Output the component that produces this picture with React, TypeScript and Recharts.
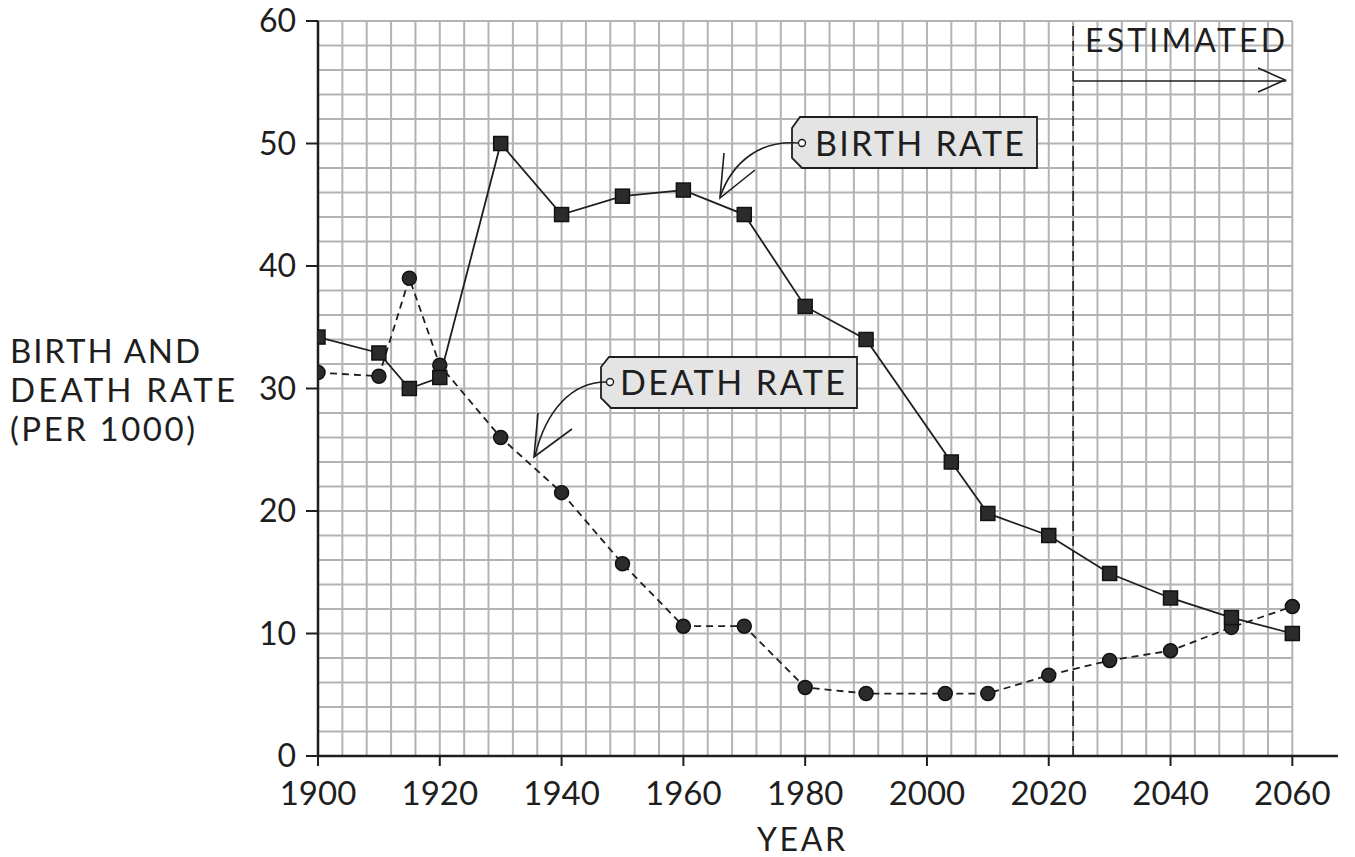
import React from "react"
import {
  LineChart,
  Line,
  XAxis,
  YAxis,
  ReferenceLine,
} from "recharts"

const birthYears = [1900, 1910, 1915, 1920, 1930, 1940, 1950, 1960, 1970, 1980, 1990, 2004, 2010, 2020, 2030, 2040, 2050, 2060]
const birthRates = [34.2, 32.9, 30.0, 30.9, 50.0, 44.2, 45.7, 46.2, 44.2, 36.7, 34.0, 24.0, 19.8, 18.0, 14.9, 12.9, 11.3, 10.0]

const deathYears = [1900, 1910, 1915, 1920, 1930, 1940, 1950, 1960, 1970, 1980, 1990, 2003, 2010, 2020, 2030, 2040, 2050, 2060]
const deathRates = [31.3, 31.0, 39.0, 31.9, 26.0, 21.5, 15.7, 10.6, 10.6, 5.6, 5.1, 5.1, 5.1, 6.6, 7.8, 8.6, 10.5, 12.2]

const xTicks = [1900, 1920, 1940, 1960, 1980, 2000, 2020, 2040, 2060]
const yTicks = [0, 10, 20, 30, 40, 50, 60]
const estimatedFrom = 2024

const FONT = "Lato, 'DejaVu Sans', sans-serif"
const INK = "#1e1e1e"
const GRID = "#b3b3b3"

// minor grid: every 4 years / every 2 units
const gridXs: number[] = []
for (let x = 1900; x <= 2060; x += 4) gridXs.push(x)
const gridYs: number[] = []
for (let y = 0; y <= 60; y += 2) gridYs.push(y)

const birthData = birthYears.map((year, i) => ({ year, v: birthRates[i] }))
const deathData = deathYears.map((year, i) => ({ year, v: deathRates[i] }))

const SquareDot = (props: any) => {
  const { cx, cy, index } = props
  if (cx == null || cy == null) return null
  return (
    <rect
      key={`sq-${index}`}
      x={cx - 7}
      y={cy - 7}
      width={14}
      height={14}
      fill="#2b2b2b"
      stroke="#111"
      strokeWidth={1.5}
    />
  )
}

const RoundDot = (props: any) => {
  const { cx, cy, index } = props
  if (cx == null || cy == null) return null
  return <circle key={`ci-${index}`} cx={cx} cy={cy} r={7} fill="#2b2b2b" stroke="#111" strokeWidth={1.5} />
}

export default function App() {
  return (
    <div style={{ position: "absolute", left: 0, top: 0, width: 1355, height: 857, background: "#fff", fontFamily: FONT }}>
      <LineChart width={1355} height={857} margin={{ top: 21, right: 17, bottom: 0, left: 0 }}>
        {gridXs.map((x) => (
          <ReferenceLine
            key={`gx-${x}`}
            segment={[{ x, y: 0 }, { x, y: 60 }]}
            stroke={GRID}
            strokeWidth={2}
          />
        ))}
        {gridYs.map((y) => (
          <ReferenceLine
            key={`gy-${y}`}
            segment={[{ x: 1900, y }, { x: 2060, y }]}
            stroke={GRID}
            strokeWidth={2}
          />
        ))}
        <XAxis
          type="number"
          dataKey="year"
          domain={[1900, 2067.5]}
          ticks={xTicks}
          allowDataOverflow
          height={101}
          tickSize={10}
          tickMargin={16}
          axisLine={{ stroke: INK, strokeWidth: 2.5 }}
          tickLine={{ stroke: INK, strokeWidth: 2 }}
          tick={{ fill: INK, fontSize: 33, fontFamily: FONT }}
        />
        <YAxis
          type="number"
          domain={[0, 60]}
          ticks={yTicks}
          width={318}
          tickSize={12}
          tickMargin={10}
          axisLine={{ stroke: INK, strokeWidth: 2.5 }}
          tickLine={{ stroke: INK, strokeWidth: 2 }}
          tick={{ fill: INK, fontSize: 32, fontFamily: FONT }}
        />
        <ReferenceLine x={estimatedFrom} stroke={INK} strokeWidth={1.6} strokeDasharray="10 5" />
        <ReferenceLine
          segment={[{ x: estimatedFrom, y: 55.1 }, { x: 2059, y: 55.1 }]}
          stroke={INK}
          strokeWidth={1.6}
        />
        <Line
          data={deathData}
          dataKey="v"
          type="linear"
          stroke={INK}
          strokeWidth={1.8}
          strokeDasharray="7 5"
          dot={<RoundDot />}
          activeDot={false}
          isAnimationActive={false}
        />
        <Line
          data={birthData}
          dataKey="v"
          type="linear"
          stroke={INK}
          strokeWidth={1.8}
          dot={<SquareDot />}
          activeDot={false}
          isAnimationActive={false}
        />
      </LineChart>

      {/* annotations */}
      <svg
        width={1355}
        height={857}
        style={{ position: "absolute", left: 0, top: 0, pointerEvents: "none" }}
      >
        {/* ESTIMATED */}
        <text x={1085} y={52} fontSize={32} fill={INK} fontFamily={FONT} textLength={200}>
          ESTIMATED
        </text>
        <path d="M1258 68 L1285 80 L1258 92" fill="none" stroke={INK} strokeWidth={1.6} />

        {/* BIRTH RATE tag */}
        <polygon
          points="800,117 1037,117 1037,168 802,168 792,158 792,128"
          fill="#e4e4e4"
          stroke={INK}
          strokeWidth={1.8}
        />
        <circle cx={802} cy={143} r={3.5} fill="#fff" stroke={INK} strokeWidth={1.4} />
        <text x={815} y={156} fontSize={34} fill={INK} fontFamily={FONT} textLength={209}>
          BIRTH RATE
        </text>
        <path d="M798 143 C 762 140, 733 160, 720 197" fill="none" stroke={INK} strokeWidth={1.6} />
        <path d="M724 153 L720 198 L755 170" fill="none" stroke={INK} strokeWidth={1.6} />

        {/* DEATH RATE tag */}
        <polygon
          points="609,357 857,357 857,408 611,408 601,398 601,367"
          fill="#e4e4e4"
          stroke={INK}
          strokeWidth={1.8}
        />
        <circle cx={610} cy={382} r={3.5} fill="#fff" stroke={INK} strokeWidth={1.4} />
        <text x={620} y={395} fontSize={34} fill={INK} fontFamily={FONT} textLength={225}>
          DEATH RATE
        </text>
        <path d="M606 382 C 572 382, 546 410, 535 456" fill="none" stroke={INK} strokeWidth={1.6} />
        <path d="M538 413 L534 457 L572 429" fill="none" stroke={INK} strokeWidth={1.6} />

        {/* axis titles */}
        <text fontSize={33} fill={INK} fontFamily={FONT}>
          <tspan x={10} y={363} textLength={190}>BIRTH AND</tspan>
          <tspan x={10} y={402} textLength={225}>DEATH RATE</tspan>
          <tspan x={10} y={441} textLength={185}>(PER 1000)</tspan>
        </text>
        <text x={757} y={851} fontSize={32} fill={INK} fontFamily={FONT} textLength={88}>
          YEAR
        </text>
      </svg>
    </div>
  )
}
